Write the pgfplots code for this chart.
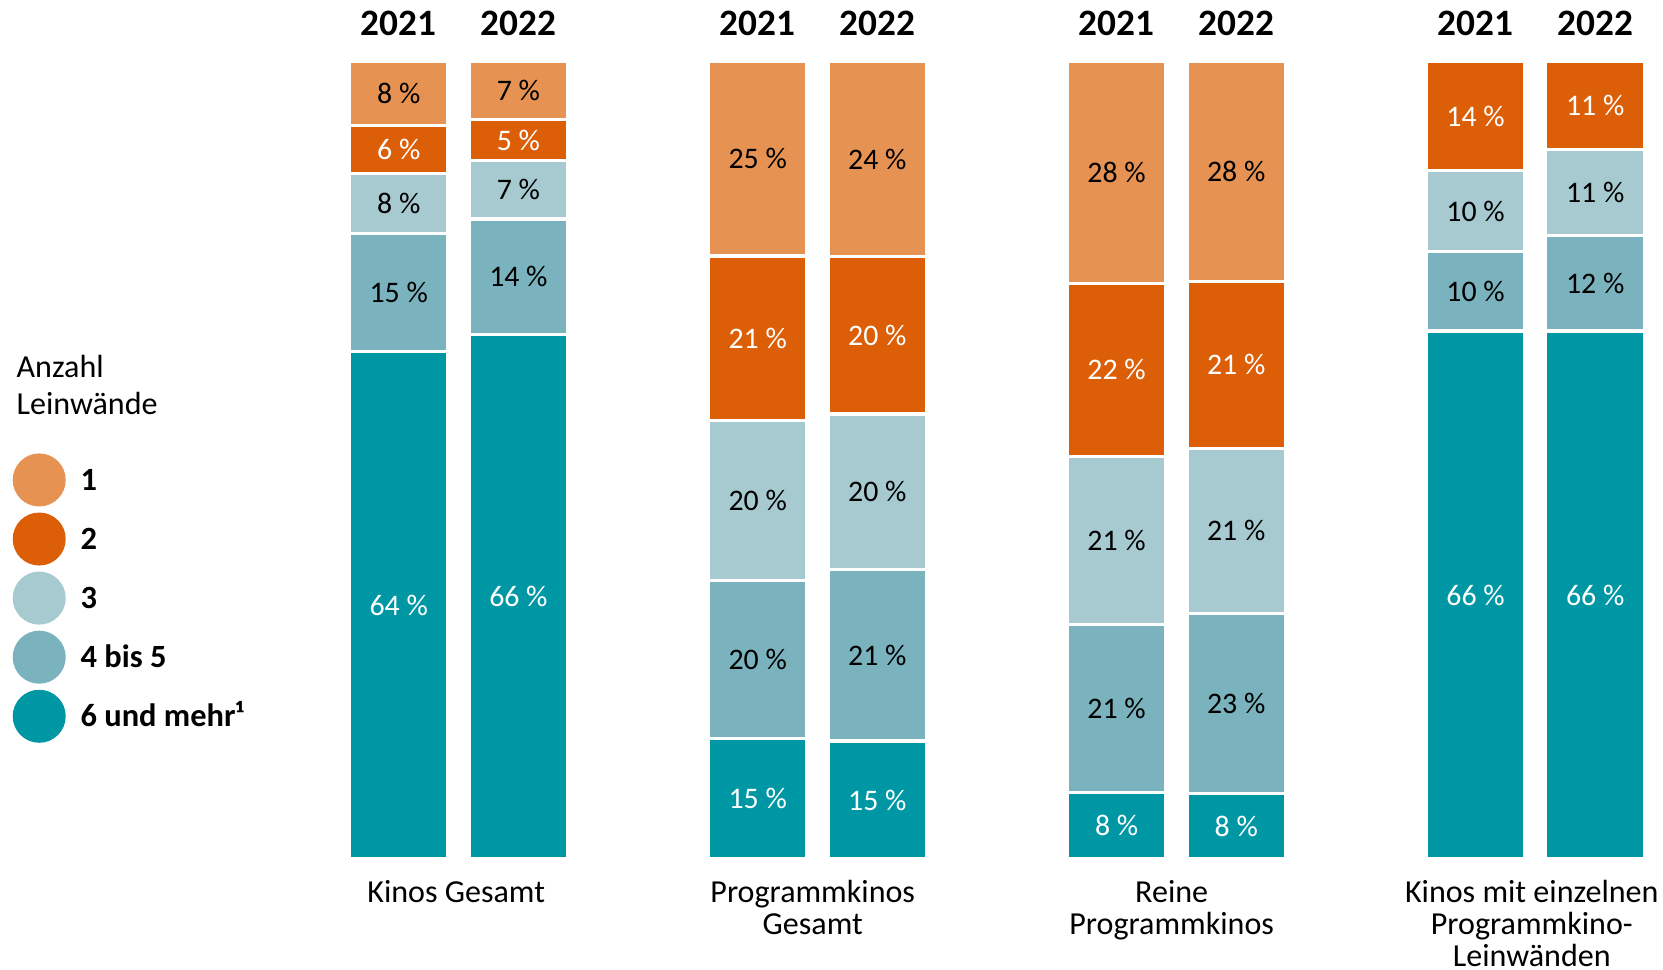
\documentclass[border=0pt]{standalone}
\usepackage{fontspec}
\setmainfont{Carlito}
\usepackage{pgfplots}
\usepackage{pgfplotstable}
\pgfplotsset{compat=1.18}

\definecolor{eins}{HTML}{E69252}
\definecolor{zwei}{HTML}{DC5F08}
\definecolor{drei}{HTML}{A6CAD0}
\definecolor{vier}{HTML}{7AB3BD}
\definecolor{sechs}{HTML}{0097A5}

% segment heights (sum 100 per bar) and printed labels
\pgfplotstableread[col sep=comma]{
x,s6,s45,s3,s2,s1,l6,l45,l3,l2,l1
0,63.6,14.8,7.6,6.0,8.0,64~\%,15~\%,8~\%,6~\%,8~\%
1,65.75,14.5,7.3,5.2,7.25,66~\%,14~\%,7~\%,5~\%,7~\%
3,15.1,19.8,20.1,20.6,24.4,15~\%,20~\%,20~\%,21~\%,25~\%
4,14.8,21.5,19.5,19.7,24.5,15~\%,21~\%,20~\%,20~\%,24~\%
6,8.3,21.1,21.1,21.7,27.8,8~\%,21~\%,21~\%,22~\%,28~\%
7,8.2,22.6,20.7,20.9,27.6,8~\%,23~\%,21~\%,21~\%,28~\%
9,66.2,10.0,10.1,13.7,0,66~\%,10~\%,10~\%,14~\%,{}
10,66.2,12.0,10.8,11.0,0,66~\%,12~\%,11~\%,11~\%,{}
}\leinw

% stacked nodes near coords already sit in the middle of each segment
\pgfplotsset{
  seg/.style 2 args={
    fill=#1, draw=white, line width=0.03cm,
    nodes near coords, point meta=explicit symbolic,
    every node near coord/.style={text=#2, anchor=center,
      font=\fontsize{8}{9.6}\selectfont},
    legend image code/.code={\fill[##1, draw=none] (0.25cm,0cm) circle (0.25cm);},
  },
}
\tikzset{
  jahr/.style={inner sep=0pt, font=\bfseries\fontsize{10}{12}\selectfont},
  grp/.style={anchor=base, inner sep=0pt, font=\fontsize{8.6}{10}\selectfont},
}

\begin{document}
\begin{tikzpicture}
\begin{axis}[
  x=1.128cm, y=0.0752cm,
  xmin=-3.333, xmax=10.567, ymin=-13.83, ymax=107.71,
  hide axis, clip=false,
  ybar stacked, bar width=0.824,
  legend style={at={(0.00765,0.5322)}, anchor=north west, draw=none, fill=none,
    inner sep=0pt, outer sep=0pt, row sep=0.057cm, column sep=0.14cm,
    nodes={inner sep=0pt, text height=1.9mm, text depth=0pt},
    font=\bfseries\fontsize{8.7}{10}\selectfont},
  legend cell align=left, reverse legend,
]
\addplot[seg={sechs}{white}] table[x=x,y=s6,meta=l6]{\leinw};
\addplot[seg={vier}{black}] table[x=x,y=s45,meta=l45]{\leinw};
\addplot[seg={drei}{black}] table[x=x,y=s3,meta=l3]{\leinw};
\addplot[seg={zwei}{white}] table[x=x,y=s2,meta=l2]{\leinw};
\addplot[seg={eins}{black}] table[x=x,y=s1,meta=l1]{\leinw};
\legend{6 und mehr¹, 4 bis 5, 3, 2, 1}

\path (rel axis cs:0,0) rectangle (rel axis cs:1,1);

% years
\node[jahr] at (axis cs:0,104.8) {2021};
\node[jahr] at (axis cs:1,104.8) {2022};
\node[jahr] at (axis cs:3,104.8) {2021};
\node[jahr] at (axis cs:4,104.8) {2022};
\node[jahr] at (axis cs:6,104.8) {2021};
\node[jahr] at (axis cs:7,104.8) {2022};
\node[jahr] at (axis cs:9,104.8) {2021};
\node[jahr] at (axis cs:10,104.8) {2022};

% group names
\node[grp] at (axis cs:0.48,-5.45) {Kinos Gesamt};
\node[grp] at (axis cs:3.46,-5.45) {Programmkinos};
\node[grp] at (axis cs:3.46,-9.44) {Gesamt};
\node[grp] at (axis cs:6.46,-5.45) {Reine};
\node[grp] at (axis cs:6.46,-9.44) {Programmkinos};
\node[grp] at (axis cs:9.47,-5.45) {Kinos mit einzelnen};
\node[grp] at (axis cs:9.47,-9.44) {Programmkino-};
\node[grp] at (axis cs:9.47,-13.43) {Leinwänden};

% legend title
\node[anchor=base west, inner sep=0pt, font=\fontsize{8.6}{10}\selectfont] at (axis cs:-3.2,60.37) {Anzahl};
\node[anchor=base west, inner sep=0pt, font=\fontsize{8.6}{10}\selectfont] at (axis cs:-3.2,55.72) {Leinwände};
\end{axis}
\end{tikzpicture}
\end{document}
